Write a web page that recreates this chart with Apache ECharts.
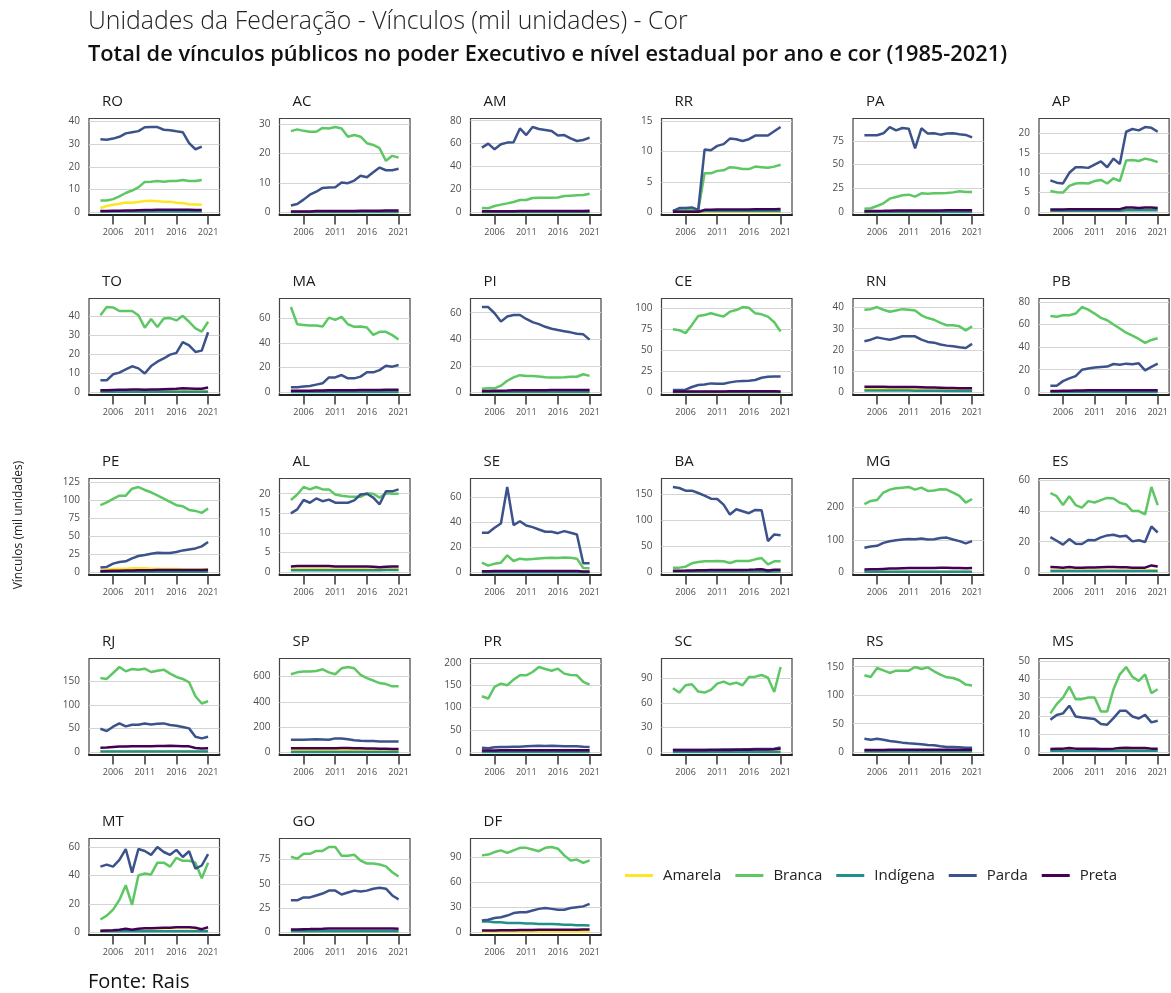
<!DOCTYPE html>
<html><head><meta charset="utf-8">
<script src="https://cdn.jsdelivr.net/npm/echarts@6/dist/echarts.min.js"></script>
<style>html,body{margin:0;padding:0;background:#fff}#c{width:1171px;height:993px}</style>
</head><body><div id="c"></div>
<script>
const years = [2004,2005,2006,2007,2008,2009,2010,2011,2012,2013,2014,2015,2016,2017,2018,2019,2020,2021];
const xTickLabels = [2006,2011,2016,2021];
const seriesNames = ['Amarela','Branca','Indígena','Parda','Preta'];
const states = ['RO','AC','AM','RR','PA','AP','TO','MA','PI','CE','RN','PB','PE','AL','SE','BA','MG','ES','RJ','SP','PR','SC','RS','MS','MT','GO','DF'];
const yTickLabels = [
  [0,10,20,30,40],[0,10,20,30],[0,20,40,60,80],[0,5,10,15],[0,25,50,75],[0,5,10,15,20],
  [0,10,20,30,40],[0,20,40,60],[0,20,40,60],[0,25,50,75,100],[0,10,20,30,40],[0,20,40,60,80],
  [0,25,50,75,100,125],[0,5,10,15,20],[0,20,40,60],[0,50,100,150],[0,100,200],[0,20,40,60],
  [0,50,100,150],[0,200,400,600],[0,50,100,150,200],[0,30,60,90],[0,50,100,150],[0,10,20,30,40,50],
  [0,20,40,60],[0,25,50,75],[0,30,60,90]
];
// Each state: rows in seriesNames order (Amarela, Branca, Indígena, Parda, Preta), years 2004-2021
const RO = [
  [1.8,2.8,3.3,3.8,4.3,4.2,4.5,5.0,5.1,4.9,4.6,4.7,4.2,4.1,3.5,3.4,3.3,null],
  [5.2,5.2,5.8,7.0,8.5,9.6,11.0,13.4,13.5,13.8,13.5,13.8,13.8,14.2,13.8,13.8,14.2,null],
  [0.3,0.3,0.3,0.3,0.3,0.3,0.3,0.4,0.4,0.4,0.4,0.4,0.4,0.4,0.4,0.4,0.4,null],
  [32.2,32.0,32.5,33.3,34.8,35.3,35.8,37.5,37.6,37.6,36.4,36.2,35.7,35.3,30.5,27.8,29.0,null],
  [0.6,0.6,0.7,0.7,0.8,0.8,0.9,1.0,1.0,1.1,1.1,1.1,1.1,1.1,1.1,1.0,1.0,null]
];
const AC = [
  [0.1,0.1,0.1,0.1,0.1,0.1,0.1,0.1,0.1,0.1,0.1,0.1,0.1,0.1,0.1,0.1,0.1,0.1],
  [27.6,28.2,27.7,27.4,27.4,28.7,28.5,29.0,28.5,25.7,26.3,25.7,23.5,22.9,21.8,17.5,19.2,18.6],
  [0.1,0.1,0.1,0.1,0.1,0.1,0.1,0.1,0.1,0.1,0.1,0.1,0.1,0.1,0.1,0.1,0.1,0.1],
  [2.3,2.8,4.3,6.0,7.0,8.3,8.4,8.5,10.1,9.9,10.8,12.4,11.9,13.6,15.2,14.3,14.3,14.8],
  [0.3,0.3,0.3,0.3,0.4,0.4,0.4,0.4,0.4,0.4,0.4,0.5,0.5,0.5,0.5,0.6,0.6,0.6]
];
const AM = [
  [0.3,0.3,0.3,0.3,0.3,0.3,0.3,0.3,0.3,0.3,0.3,0.3,0.3,0.3,0.3,0.3,0.3,0.3],
  [3.8,3.5,5.5,6.7,7.8,9.0,10.7,10.7,12.5,12.8,12.8,12.8,13.0,14.2,14.5,14.8,15.1,16.2],
  [0.3,0.3,0.3,0.3,0.3,0.3,0.3,0.3,0.3,0.3,0.3,0.3,0.3,0.3,0.3,0.3,0.3,0.3],
  [56.5,60.0,55.0,59.4,60.9,61.2,73.3,67.5,74.5,72.8,71.9,71.0,67.0,67.5,64.6,62.3,63.2,65.2],
  [0.8,0.8,0.9,0.9,1.0,1.0,1.1,1.1,1.2,1.2,1.2,1.2,1.2,1.2,1.2,1.2,1.2,1.3]
];
const RR = [
  [0.05,0.05,0.05,0.05,0.05,0.1,0.1,0.1,0.1,0.1,0.1,0.1,0.1,0.1,0.1,0.1,0.1,0.1],
  [0.3,0.4,0.45,0.4,0.3,6.4,6.4,6.8,6.9,7.4,7.3,7.1,7.1,7.5,7.4,7.3,7.5,7.8],
  [0.1,0.1,0.1,0.1,0.1,0.2,0.2,0.2,0.2,0.2,0.2,0.2,0.2,0.2,0.2,0.2,0.2,0.2],
  [0.2,0.7,0.7,0.8,0.4,10.3,10.2,10.9,11.2,12.1,12.0,11.7,12.0,12.6,12.6,12.6,13.3,14.0],
  [0.1,0.1,0.1,0.1,0.1,0.4,0.4,0.45,0.45,0.45,0.45,0.45,0.45,0.5,0.5,0.5,0.5,0.55]
];
const PA = [
  [0.3,0.3,0.3,0.3,0.4,0.4,0.4,0.4,0.4,0.4,0.4,0.4,0.5,0.5,0.5,0.5,0.5,0.5],
  [3.8,4.2,6.6,9.4,14.3,16.0,17.8,18.5,16.4,19.9,19.5,19.9,19.9,20.2,20.9,22.0,21.3,21.3],
  [0.3,0.3,0.3,0.3,0.3,0.3,0.3,0.3,0.3,0.3,0.3,0.3,0.3,0.3,0.3,0.3,0.3,0.3],
  [80.8,80.8,80.8,82.9,89.5,86.0,88.5,87.8,67.2,88.2,82.6,82.9,81.5,82.6,82.9,81.9,81.2,78.7],
  [1.2,1.3,1.4,1.5,1.7,1.8,1.9,2.0,1.8,2.0,2.0,2.0,2.0,2.1,2.1,2.1,2.1,2.1]
];
const AP = [
  [0.3,0.3,0.3,0.3,0.3,0.3,0.3,0.3,0.3,0.3,0.3,0.3,0.8,0.8,0.8,0.8,0.8,0.8],
  [5.4,5.1,5.0,6.7,7.3,7.4,7.3,7.9,8.2,7.3,8.6,7.9,13.1,13.25,13.0,13.6,13.25,12.7],
  [0.4,0.4,0.4,0.4,0.4,0.4,0.4,0.4,0.4,0.4,0.4,0.4,0.5,0.5,0.5,0.5,0.5,0.5],
  [8.1,7.5,7.3,10.0,11.4,11.4,11.25,12.1,12.9,11.4,13.6,12.25,20.4,21.1,20.75,21.6,21.4,20.4],
  [0.7,0.7,0.7,0.8,0.8,0.8,0.8,0.8,0.8,0.8,0.8,0.8,1.2,1.2,1.1,1.2,1.2,1.1]
];
const TO = [
  [0.5,0.5,0.5,0.5,0.5,0.5,0.5,0.5,0.5,0.5,0.5,0.5,0.6,0.6,0.6,0.6,0.6,0.6],
  [40.3,44.6,44.4,42.5,42.5,42.5,40.3,33.8,38.3,34.1,38.6,38.8,37.6,40.0,36.9,33.4,31.7,36.9],
  [0.3,0.3,0.3,0.3,0.3,0.3,0.3,0.3,0.3,0.3,0.3,0.3,0.3,0.3,0.3,0.3,0.3,0.3],
  [6.3,6.3,9.4,10.3,12.0,13.6,12.5,9.8,13.7,16.0,17.7,19.7,20.6,26.2,24.5,21.1,21.8,31.4],
  [1.0,1.1,1.2,1.3,1.3,1.4,1.4,1.3,1.4,1.5,1.6,1.7,1.8,2.1,2.0,1.8,1.8,2.5]
];
const MA = [
  [0.5,0.5,0.6,0.6,0.7,0.7,0.8,0.8,0.8,0.9,0.9,0.9,1.0,1.0,1.0,1.0,1.0,1.0],
  [69.2,55.2,54.7,54.2,54.2,53.4,60.6,58.8,61.2,55.2,53.1,53.4,52.6,46.6,49.1,49.1,46.4,42.9],
  [0.2,0.2,0.2,0.2,0.2,0.2,0.2,0.2,0.2,0.2,0.2,0.2,0.2,0.2,0.2,0.2,0.2,0.2],
  [4.0,4.0,4.6,5.1,6.2,7.3,12.1,12.1,14.0,11.3,11.3,12.7,16.2,16.2,18.0,21.6,20.8,22.1],
  [1.2,1.2,1.3,1.3,1.4,1.4,1.6,1.7,1.7,1.7,1.7,1.8,1.8,1.9,1.9,2.0,2.0,2.0]
];
const PI = [
  [0.3,0.3,0.3,0.3,0.3,0.3,0.3,0.3,0.3,0.3,0.3,0.3,0.3,0.3,0.3,0.3,0.3,0.3],
  [2.7,3.0,3.0,5.0,8.7,11.2,12.9,12.2,12.2,11.9,11.4,11.2,11.2,11.4,11.7,11.7,13.6,12.4],
  [0.2,0.2,0.2,0.2,0.2,0.2,0.2,0.2,0.2,0.2,0.2,0.2,0.2,0.2,0.2,0.2,0.2,0.2],
  [64.3,64.3,59.6,53.3,57.1,58.3,58.3,55.3,52.9,51.4,49.4,47.9,46.9,46.1,45.2,44.2,43.7,39.7],
  [1.0,1.0,1.1,1.2,1.3,1.5,1.6,1.6,1.6,1.6,1.6,1.7,1.7,1.7,1.7,1.8,1.8,1.8]
];
const CE = [
  [0.3,0.3,0.3,0.3,0.3,0.3,0.3,0.3,0.3,0.3,0.3,0.3,0.3,0.3,0.3,0.3,0.3,0.3],
  [75.2,74.0,70.5,80.3,91.0,92.1,94.1,92.1,90.2,96.1,98.0,101.6,100.8,94.1,92.9,90.2,83.5,72.4],
  [0.2,0.2,0.2,0.2,0.2,0.2,0.2,0.2,0.2,0.2,0.2,0.2,0.2,0.2,0.2,0.2,0.2,0.2],
  [2.8,2.8,3.1,6.3,8.7,9.4,10.6,10.2,10.2,11.8,13.0,13.4,13.8,14.6,17.3,18.5,18.9,18.9],
  [0.8,0.8,0.9,0.9,1.0,1.0,1.0,1.0,1.0,1.1,1.1,1.1,1.1,1.1,1.1,1.1,1.1,1.0]
];
const RN = [
  [1.5,1.5,1.5,1.5,1.4,1.4,1.4,1.4,1.3,1.3,1.2,1.2,1.1,1.1,1.0,1.0,1.0,1.0],
  [38.9,39.2,40.2,38.9,38.0,38.6,39.2,38.9,38.6,36.3,35.0,34.2,32.7,31.6,31.6,31.1,29.2,31.1],
  [0.8,0.8,0.8,0.8,0.8,0.8,0.8,0.8,0.7,0.7,0.7,0.7,0.7,0.6,0.6,0.6,0.6,0.6],
  [24.1,24.8,25.9,25.3,24.8,25.5,26.4,26.4,26.4,24.8,23.75,23.4,22.5,22.0,21.7,21.25,20.9,22.8],
  [2.6,2.6,2.6,2.6,2.5,2.5,2.5,2.5,2.5,2.4,2.3,2.2,2.1,2.0,2.0,1.9,1.9,1.9]
];
const PB = [
  [0.5,0.5,0.5,0.5,0.5,0.5,0.5,0.5,0.5,0.5,0.5,0.5,0.5,0.5,0.5,0.5,0.5,0.5],
  [67.7,66.9,68.3,68.3,69.8,75.6,73.3,69.8,66.0,63.9,60.1,56.6,52.8,50.2,47.3,43.8,46.4,47.9],
  [0.3,0.3,0.3,0.3,0.3,0.3,0.3,0.3,0.3,0.3,0.3,0.3,0.3,0.3,0.3,0.3,0.3,0.3],
  [5.8,5.8,9.9,12.3,14.3,19.9,21.0,21.9,22.5,22.8,25.1,24.5,25.4,24.8,25.7,19.5,22.5,25.4],
  [1.2,1.2,1.3,1.4,1.5,1.6,1.7,1.7,1.7,1.8,1.8,1.8,1.8,1.8,1.8,1.8,1.8,1.9]
];
const PE = [
  [3.0,3.5,4.5,5.0,5.0,5.5,5.5,5.5,5.0,5.0,4.5,4.5,4.5,4.0,4.0,4.0,4.0,4.0],
  [93.2,97.3,101.9,106.5,106.5,116.2,118.5,114.4,111.2,107.0,102.4,97.8,93.2,91.8,86.7,85.3,82.6,88.6],
  [0.8,0.8,0.8,0.8,0.8,0.8,0.8,0.8,0.8,0.8,0.8,0.8,0.8,0.8,0.8,0.8,0.8,0.8],
  [6.5,7.4,12.0,14.3,15.2,19.4,22.6,24.0,25.8,27.2,26.8,26.8,28.1,30.4,31.8,33.2,36.0,42.0],
  [1.5,1.8,2.0,2.2,2.4,2.5,2.7,2.8,2.9,3.0,3.0,3.1,3.1,3.2,3.2,3.3,3.3,3.5]
];
const AL = [
  [0.9,0.9,0.9,0.9,0.9,0.9,0.9,0.9,0.9,0.9,0.9,0.9,0.9,0.9,0.8,0.9,0.9,0.9],
  [18.4,19.8,21.7,21.1,21.7,21.1,21.1,19.8,19.5,19.3,19.2,19.2,20.1,20.0,19.0,20.1,20.0,20.0],
  [0.5,0.5,0.5,0.5,0.5,0.5,0.5,0.5,0.5,0.5,0.5,0.5,0.5,0.5,0.5,0.6,0.6,0.6],
  [15.0,16.0,18.4,17.7,18.8,18.1,18.5,17.7,17.7,17.7,18.3,19.8,20.0,19.0,17.3,20.6,20.6,21.1],
  [1.5,1.6,1.6,1.6,1.6,1.6,1.6,1.5,1.5,1.5,1.5,1.5,1.5,1.4,1.3,1.4,1.5,1.5]
];
const SE = [
  [0.5,0.5,0.6,0.8,0.8,0.6,0.6,0.5,0.5,0.5,0.5,0.5,0.5,0.5,0.5,0.5,0.3,0.3],
  [7.7,5.3,6.9,7.7,13.5,9.0,10.9,10.3,10.6,11.1,11.4,11.7,11.4,11.9,11.7,10.9,3.4,3.2],
  [0.1,0.1,0.1,0.1,0.1,0.1,0.1,0.1,0.1,0.1,0.1,0.1,0.1,0.1,0.1,0.1,0.1,0.1],
  [31.6,31.6,35.6,39.0,68.2,37.7,40.8,37.4,36.1,34.2,32.4,32.4,31.3,32.9,31.6,30.2,7.2,7.2],
  [0.9,0.9,1.0,1.0,1.1,1.1,1.1,1.1,1.1,1.1,1.1,1.1,1.1,1.1,1.1,1.0,0.6,0.6]
];
const BA = [
  [1.0,1.0,1.0,1.0,1.0,1.0,1.0,1.0,1.0,1.0,1.0,1.0,1.0,1.0,1.0,0.8,1.0,1.0],
  [8.9,8.9,10.8,17.2,19.7,21.0,21.0,21.6,21.0,17.8,21.6,21.6,21.6,24.8,27.3,15.3,21.0,21.0],
  [1.5,1.5,1.5,1.5,1.5,1.5,1.5,1.5,1.5,1.5,1.5,1.5,1.5,1.5,1.5,1.2,1.5,1.5],
  [163.4,161.5,156.4,156.4,151.9,146.9,141.1,140.5,129.7,110.6,120.8,117.0,113.2,119.5,118.9,59.8,72.5,71.2],
  [3.0,3.0,3.2,3.5,3.8,4.0,4.2,4.4,4.4,4.2,4.4,4.6,4.8,5.2,5.8,3.5,4.8,5.0]
];
const MG = [
  [2.0,2.0,2.0,2.0,2.0,2.0,2.0,2.0,2.0,2.0,2.0,2.0,2.0,2.0,2.0,2.0,2.0,2.0],
  [210,220,223,246,255,259,261,263,255,261,251,252,256,255,246,236,215,226],
  [2.0,2.0,2.0,2.0,2.0,2.0,2.0,2.0,2.0,2.0,2.0,2.0,2.0,2.0,2.0,2.0,2.0,2.0],
  [75.5,79.6,81.6,90.8,95.9,99,101,103,102,104,101,102,106,107,101,96,89,96],
  [8.5,9.0,9.5,10.5,11.5,12.0,12.5,13.0,13.0,13.5,13.5,13.5,14.0,14.0,13.5,13.0,12.5,13.0]
];
const ES = [
  [1.2,1.2,1.2,1.2,1.2,1.2,1.2,1.2,1.2,1.2,1.2,1.2,1.2,1.2,1.2,1.2,1.3,1.2],
  [51.8,49.7,43.9,49.7,43.9,42.2,46.5,45.6,47.1,48.6,48.2,45.4,44.3,40.0,40.0,37.8,55.7,43.9],
  [0.8,0.8,0.8,0.8,0.8,0.8,0.8,0.8,0.8,0.8,0.8,0.8,0.8,0.8,0.8,0.8,0.8,0.8],
  [23.0,20.6,18.1,21.7,18.7,18.5,21.1,20.9,22.8,24.1,24.5,23.4,23.9,20.2,20.9,19.8,29.9,26.0],
  [3.4,3.3,3.0,3.4,3.0,3.0,3.2,3.2,3.3,3.4,3.4,3.3,3.3,3.0,3.0,3.0,4.5,3.8]
];
const RJ = [
  [2.0,2.0,2.0,2.0,2.0,2.0,2.0,2.0,2.0,2.0,2.0,2.0,2.0,2.0,2.0,1.5,1.5,1.5],
  [157,154.9,167.5,180.1,171,175.9,174.5,176.6,169.6,172.4,174.5,166.1,159.1,154.9,147.9,118.4,103,107.9],
  [1.5,1.5,1.5,1.5,1.5,1.5,1.5,1.5,1.5,1.5,1.5,1.5,1.5,1.5,1.5,1.5,1.5,1.5],
  [49.8,44.8,54,61,54.7,58.2,58.2,61,58.9,60.3,61,57.5,56.1,53.3,50.5,32.9,29.4,32.9],
  [9.8,10,11,12,12,12.5,12.5,13,13,13.5,13.5,14,13.5,13,12.5,9,8,8.5]
];
const SP = [
  [20,20,20,20,20,20,20,20,20,20,19,19,18,18,17,17,16,16],
  [618,633,639,639,644,657,633,618,665,675,665,613,587,568,548,540,522,522],
  [3,3,3,3,3,3,3,3,3,3,3,3,3,3,3,3,3,3],
  [99,99,99,102,104,102,99,110,110,104,96,91,89,89,86,86,86,86],
  [32,32,32,32,32,32,32,32,33,33,32,31,30,29,28,27,26,26]
];
const PR = [
  [2.5,2.5,2.5,2.5,2.5,2.5,2.5,2.5,2.5,2.5,2.5,2.5,2.5,2.5,2.5,2.5,2.5,2.5],
  [125.5,120.3,146.3,153.7,150,162.6,172.2,172.2,179.7,190.8,186.3,182.6,187.1,176,173,172.2,157.4,151.5],
  [0.5,0.5,0.5,0.5,0.5,0.5,0.5,0.5,0.5,0.5,0.5,0.5,0.5,0.5,0.5,0.5,0.5,0.5],
  [10.4,8.9,11.1,11.9,11.9,12.6,12.6,13.4,14.1,14.8,14.1,14.8,14.1,13.4,13.4,13.4,12.6,11.9],
  [4,4,4.2,4.3,4.4,4.5,4.5,4.6,4.7,4.8,4.8,4.8,4.8,4.8,4.8,4.8,4.7,4.6]
];
const SC = [
  [0.5,0.5,0.5,0.5,0.5,0.5,0.5,0.5,0.5,0.5,0.5,0.5,0.5,0.5,0.5,0.5,0.5,0.5],
  [77.9,72.6,81.5,82.7,73.8,72.6,75.9,83.5,86.0,82.7,84.7,81.5,91.6,92.0,94.0,90.8,73.4,103.7],
  [0.3,0.3,0.3,0.3,0.3,0.3,0.3,0.3,0.3,0.3,0.3,0.3,0.3,0.3,0.3,0.3,0.3,0.3],
  [3.0,3.0,3.0,3.0,3.0,3.1,3.1,3.2,3.3,3.4,3.5,3.6,3.8,3.9,4.0,4.1,4.2,6.0],
  [2.5,2.5,2.5,2.5,2.6,2.6,2.7,2.8,2.8,2.9,3.0,3.0,3.2,3.3,3.4,3.5,3.6,4.2]
];
const RS = [
  [1.0,1.0,1.0,1.0,1.0,1.0,1.0,1.0,1.0,1.0,1.0,1.0,1.0,1.0,1.0,1.0,1.0,1.0],
  [134.9,132,147.7,143.6,139,143,143,143,149.4,145.9,148.8,141.9,136,131.4,130.2,126.2,118.6,116.9],
  [1.5,1.5,1.5,1.5,1.5,1.5,1.5,1.5,1.5,1.5,1.5,1.5,1.5,1.5,1.5,1.5,1.5,1.5],
  [23.8,22.1,23.8,22.1,19.8,18.6,16.9,15.7,15.1,14,12.8,12.2,10.5,9.3,9.3,8.7,8.1,8.1],
  [4,4,4.1,4.2,4.3,4.4,4.4,4.5,4.5,4.6,4.6,4.6,4.6,4.6,4.6,4.6,4.5,4.5]
];
const MS = [
  [1.0,1.0,1.0,1.0,1.0,1.0,1.0,1.0,1.0,1.0,1.0,1.0,1.0,1.0,1.0,1.0,1.0,1.0],
  [21.3,26.4,30,36,29.1,29.1,30,30,22.4,22.4,34.5,42.7,46.7,41.3,39.1,42.7,32.4,34.5],
  [0.8,0.8,0.8,0.8,0.8,0.8,0.8,0.8,0.8,0.8,0.8,0.8,0.9,0.9,0.9,0.9,0.9,0.9],
  [17.8,20.4,21.3,25.5,19.6,19.1,18.7,18.2,15.5,15.1,18.7,22.7,22.7,19.6,18.5,20.5,16.4,17.3],
  [1.8,1.9,2.0,2.4,2.0,2.0,2.0,2.0,1.8,1.8,2.0,2.4,2.5,2.3,2.3,2.4,2.0,2.0]
];
const MT = [
  [1.0,1.0,1.0,1.0,1.0,1.0,1.0,1.0,1.0,1.0,1.0,1.0,1.0,1.0,1.0,1.0,1.0,1.0],
  [9,11.7,15.9,22.8,33.1,19.3,40,41.4,40.7,49,49,46.2,52.4,50.3,50.3,49,38,49],
  [0.8,0.8,0.8,0.8,0.8,0.8,0.8,0.8,0.8,0.8,0.8,0.8,0.8,0.8,0.8,0.8,0.8,0.8],
  [46.2,47.6,46.2,51,58.6,42,58.6,57.2,54.5,60,56.5,54.5,58,53,57,44.8,47,55],
  [1.0,1.2,1.4,1.8,2.5,1.8,2.5,2.8,2.8,3.0,3.2,3.2,3.5,3.5,3.5,3.2,2.2,3.5]
];
const GO = [
  [1.0,1.0,1.0,1.0,1.0,1.0,1.0,1.0,1.0,1.0,1.0,1.0,1.0,1.0,1.0,1.0,1.0,1.0],
  [78,76,81,81,84,84,88,88,79,79,80,74,71,71,70,68,62,57.5],
  [1.0,1.0,1.0,1.0,1.0,1.0,1.0,1.0,1.0,1.0,1.0,1.0,1.0,1.0,1.0,1.0,1.0,1.0],
  [33,33,36,36,38,40,43,43,39,41,43,42,43,45,46,45,38,34],
  [3,3,3.2,3.3,3.5,3.6,3.8,3.8,3.8,3.9,4,4,4,4,4,4,3.8,3.6]
];
const DF = [
  [1.0,1.0,1.0,1.0,1.0,1.0,1.0,1.0,1.0,1.0,1.0,1.0,1.0,1.0,1.0,1.0,1.0,1.0],
  [92,93,96,98,95,98,101,101,99,97,101,102,100,92,86,87,83,86],
  [13,13,12,12,11,11,11,10.5,10.5,10,10,10,9.5,9,9,8.5,8.5,8],
  [14,15,17,18,20,23,24,24,26,28,29,28,27,27,29,30,31,34],
  [2,2,2.2,2.3,2.4,2.5,2.6,2.7,2.8,2.9,3.0,3.0,3.0,3.0,3.1,3.1,3.2,3.3]
];

const stateData = {RO,AC,AM,RR,PA,AP,TO,MA,PI,CE,RN,PB,PE,AL,SE,BA,MG,ES,RJ,SP,PR,SC,RS,MS,MT,GO,DF};

// ---- layout / style ----
const colors = ['#FDE725','#5DC863','#21908C','#3B528B','#440154'];
const colLeft = [89, 279.5, 470.5, 661.5, 853, 1039];
const rowTop = [118.5, 298.5, 478.5, 658.5, 838.5];
const panelW = 130.5, panelH = 96;
const FONT = 'Open Sans';

const chart = echarts.init(document.getElementById('c'), null, {renderer:'canvas'});
const option = {
  animation:false,
  backgroundColor:'#ffffff',
  textStyle:{fontFamily:FONT},
  title:[], grid:[], xAxis:[], yAxis:[], series:[],
  legend:{
    data:seriesNames.map(n=>({name:n, icon:'rect'})), left:620, top:863, orient:'horizontal',
    itemWidth:28, itemHeight:3, itemGap:14,
    textStyle:{fontSize:15, color:'#222', fontFamily:FONT, padding:[0,0,0,5]}
  },
  graphic:[
    {type:'text', left:88, top:9, style:{text:'Unidades da Federação - Vínculos (mil unidades) - Cor', font:'300 24.8px "Open Sans"', fill:'#222'}},
    {type:'text', left:88, top:44, style:{text:'Total de vínculos públicos no poder Executivo e nível estadual por ano e cor (1985-2021)', font:'600 21.8px "Open Sans"', fill:'#111'}},
    {type:'text', left:88, top:972, style:{text:'Fonte: Rais', font:'20px "Open Sans"', fill:'#111'}},
    {type:'text', x:19, y:525, rotation:Math.PI/2, style:{text:'Vínculos (mil unidades)', font:'12px "Open Sans"', fill:'#222', align:'center', verticalAlign:'middle'}}
  ]
};

states.forEach((st,i)=>{
  const r = Math.floor(i/6), c = i%6;
  const left = colLeft[c], top = rowTop[r];
  const data = stateData[st];
  let mx = 0;
  data.forEach(s=>s.forEach(v=>{ if(v!=null && v>mx) mx=v; }));
  option.grid.push({left:left, top:top, width:panelW, height:panelH, show:true, borderColor:'#444', borderWidth:1.2, backgroundColor:'transparent'});
  option.xAxis.push({
    type:'value', gridIndex:i, min:2002.2, max:2022.8,
    axisLine:{show:true, onZero:false, lineStyle:{color:'#222', width:2}},
    axisTick:{show:true, length:10, customValues:xTickLabels, lineStyle:{color:'#333', width:1.5}},
    axisLabel:{show:true, customValues:xTickLabels, fontSize:9, color:'#4d4d4d', margin:13, formatter:v=>String(v)},
    splitLine:{show:false}
  });
  option.yAxis.push({
    type:'value', gridIndex:i, min:-mx*0.026, max:mx*1.1,
    axisLine:{show:false},
    axisTick:{show:false, customValues:yTickLabels[i]},
    axisLabel:{show:true, customValues:yTickLabels[i], fontSize:10, color:'#4d4d4d', margin:9},
    splitLine:{show:true, lineStyle:{color:'#d4d4d4', width:1.2}}
  });
  seriesNames.forEach((nm,k)=>{
    option.series.push({
      name:nm, type:'line', xAxisIndex:i, yAxisIndex:i,
      data: years.map((y,j)=>[y, data[k][j]]),
      symbol:'none', showSymbol:false, connectNulls:false,
      lineStyle:{width:2.5, color:colors[k]}, itemStyle:{color:colors[k]},
      z: 2+k, silent:true
    });
  });
  option.title.push({text:st, left:left+8, top:top-29, textStyle:{fontSize:15, fontWeight:'normal', color:'#1a1a1a', fontFamily:FONT}});
});

chart.setOption(option);
</script>
</body></html>
